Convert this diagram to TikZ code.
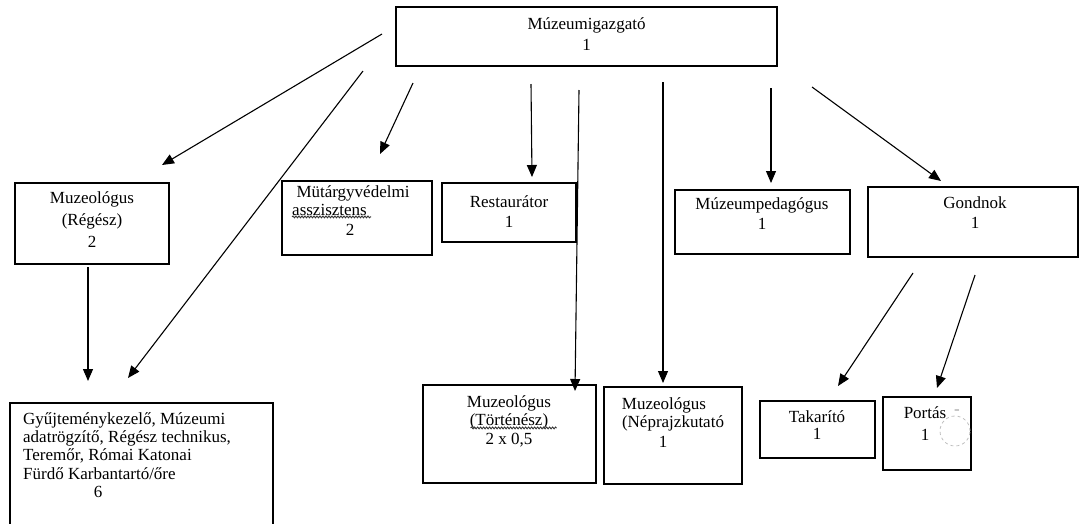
\documentclass[tikz,border=0pt]{standalone}
\usepackage{fontspec}
\setmainfont{Liberation Serif}
\usetikzlibrary{arrows.meta,decorations.pathmorphing}
\begin{document}
\begin{tikzpicture}[x=1pt,y=-1pt,
  box/.style={draw=black,line width=1.3pt,rectangle,inner sep=0pt,outer sep=0pt},
  lbl/.style={inner sep=0pt,font=\fontsize{17}{19}\selectfont},
  conn/.style={draw=black,line width=1.1pt,-{Triangle[length=12pt,width=10pt]}},
  squig/.style={draw=black!80,line width=0.9pt,decorate,decoration={snake,amplitude=0.9pt,segment length=3pt}}]
\useasboundingbox (0,0) rectangle (1083,523);
% boxes
\node[box,minimum width=381pt,minimum height=59pt] (top) at (586.5,36.5) {};
\node[box,minimum width=154pt,minimum height=81pt] (regesz) at (92,223.5) {};
\node[box,minimum width=150pt,minimum height=74pt] (mutargy) at (357,218) {};
\node[box,minimum width=134pt,minimum height=59pt] (restaur) at (509,212.5) {};
\node[box,minimum width=175pt,minimum height=64pt] (mup) at (762.5,222) {};
\node[box,minimum width=210pt,minimum height=70pt] (gondnok) at (973,222) {};
\node[box,minimum width=173pt,minimum height=98pt] (tort) at (509.5,434) {};
\node[box,minimum width=138pt,minimum height=97pt] (nepr) at (673,435.5) {};
\node[box,minimum width=115pt,minimum height=57pt] (takarito) at (817.5,429.5) {};
\node[box,minimum width=88pt,minimum height=73pt] (portas) at (927,433.5) {};
\node[box,minimum width=263pt,minimum height=160pt] (gyujt) at (141.5,483) {};
% texts
\node[lbl] (t1) at (586.5,25) {Múzeumigazgató};
\node[lbl] (t1n) at (586.5,45) {1};
\node[lbl] (t2) at (92,199) {Muzeológus};
\node[lbl] (t2b) at (92,221) {(Régész)};
\node[lbl] (t2n) at (92,242) {2};
\node[lbl] (t3) at (353,193) {Mütárgyvédelmi};
\node[lbl,anchor=west] (t3b) at (292,210) {asszisztens};
\node[lbl] (t3n) at (350,230) {2};
\node[lbl] (t4) at (509,202) {Restaurátor};
\node[lbl] (t4n) at (509,222) {1};
\node[lbl] (t5) at (762,205) {Múzeumpedagógus};
\node[lbl] (t5n) at (762,224) {1};
\node[lbl] (t6) at (975,203) {Gondnok};
\node[lbl] (t6n) at (975,223) {1};
\node[lbl] (t7) at (509,403) {Muzeológus};
\node[lbl] (t7b) at (509,421) {(Történész)};
\node[lbl] (t7n) at (509,440) {2 x 0,5};
\node[lbl] (t8) at (664,405) {Muzeológus};
\node[lbl] (t8b) at (673,423) {(Néprajzkutató};
\node[lbl] (t8n) at (663,442) {1};
\node[lbl] (t9) at (817,417) {Takarító};
\node[lbl] (t9n) at (817,434) {1};
\node[lbl] (t10) at (925,413) {Portás};
\node[lbl] (t10n) at (925,435) {1};
\node[lbl,anchor=west] (g1) at (23,420) {Gyűjteménykezelő, Múzeumi};
\node[lbl,anchor=west] (g2) at (23,438) {adatrögzítő, Régész technikus,};
\node[lbl,anchor=west] (g3) at (23,456) {Teremőr, Római Katonai};
\node[lbl,anchor=west] (g4) at (23,474) {Fürdő Karbantartó/őre};
\node[lbl] (g5) at (98,492) {6};
% spell-check squiggles and scan marks
\draw[squig] (t3b.south west) ++(0,1) -- ++(79,0);
\draw[squig] (t7b.south west) ++(1,-1) -- ++(86,0);
\node[draw=black!25,dashed,circle,minimum size=30pt,inner sep=0pt,line width=0.8pt] (mark) at (955,431) {};
\node[lbl,text=black!35] (markdash) at (957,412) {-};
% connector end points
\coordinate (a1s) at (382,34);   \coordinate (a1e) at (162,165);
\coordinate (a2s) at (363,71);   \coordinate (a2e) at (128,378);
\coordinate (a3s) at (413,83);   \coordinate (a3e) at (380,154);
\coordinate (a4s) at (531,84);   \coordinate (a4e) at (532,177);
\coordinate (a5s) at (579,90);   \coordinate (a5e) at (575,391);
\coordinate (a6s) at (663,82);   \coordinate (a6e) at (663,383);
\coordinate (a7s) at (771,88);   \coordinate (a7e) at (771,183);
\coordinate (a8s) at (812,87);   \coordinate (a8e) at (941,181);
\coordinate (a9s) at (88,267);   \coordinate (a9e) at (88,381);
\coordinate (a10s) at (913,273); \coordinate (a10e) at (838,386);
\coordinate (a11s) at (975,275); \coordinate (a11e) at (937,388);
% connectors
\draw[conn] (a1s) -- (a1e);
\draw[conn] (a2s) -- (a2e);
\draw[conn] (a3s) -- (a3e);
\draw[conn] (a4s) -- (a4e);
\draw[conn] (a5s) -- (a5e);
\draw[conn] (a6s) -- (a6e);
\draw[conn] (a7s) -- (a7e);
\draw[conn] (a8s) -- (a8e);
\draw[conn] (a9s) -- (a9e);
\draw[conn] (a10s) -- (a10e);
\draw[conn] (a11s) -- (a11e);
\end{tikzpicture}
\end{document}
